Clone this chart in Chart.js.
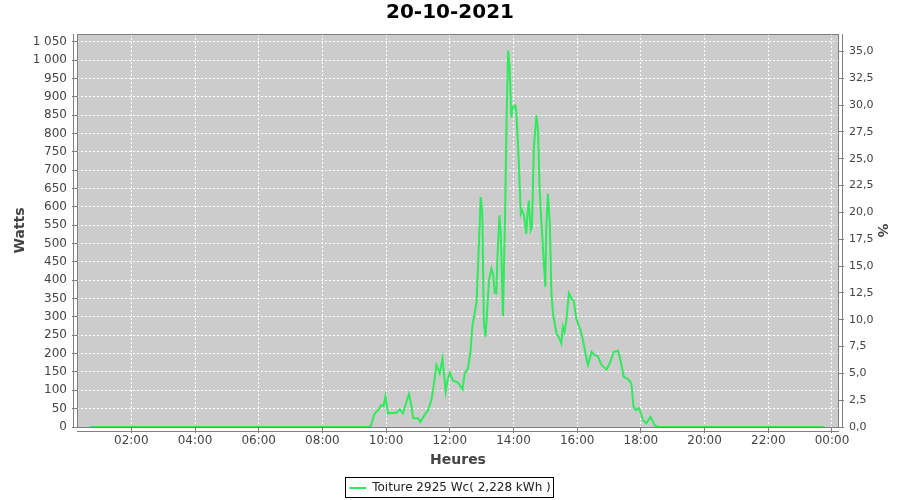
<!DOCTYPE html>
<html>
<head>
<meta charset="utf-8">
<title>20-10-2021</title>
<script src="https://cdn.jsdelivr.net/npm/chart.js@4/dist/chart.umd.min.js"></script>
<style>
    html, body { margin: 0; padding: 0; background: #fff; }
    canvas { display: block; }
</style>
</head>
<body>
<canvas id="chart" width="900" height="500"></canvas>
<script>
const CHART_TITLE = '20-10-2021';
const SERIES_LABEL = 'Toiture 2925 Wc( 2,228 kWh )';
const PEAK_WC = 2925;

// heure de la journée (en heures décimales) et puissance en watts
const HOURS = [
    0.70, 9.45, 9.52, 9.58, 9.64, 9.75, 9.85, 9.92, 9.98, 10.06,
    10.17, 10.32, 10.43, 10.53, 10.64, 10.72, 10.79, 10.85, 11.00, 11.08,
    11.21, 11.32, 11.42, 11.49, 11.58, 11.68, 11.77, 11.87, 11.93, 12.00,
    12.10, 12.26, 12.40, 12.47, 12.57, 12.65, 12.71, 12.78, 12.84, 12.89,
    12.97, 13.02, 13.07, 13.12, 13.18, 13.23, 13.31, 13.36, 13.41, 13.46,
    13.50, 13.56, 13.60, 13.67, 13.74, 13.78, 13.83, 13.88, 13.93, 13.98,
    14.06, 14.09, 14.16, 14.23, 14.27, 14.33, 14.40, 14.44, 14.48, 14.54,
    14.58, 14.64, 14.72, 14.77, 14.82, 14.88, 14.96, 15.00, 15.03, 15.08,
    15.14, 15.19, 15.24, 15.35, 15.45, 15.50, 15.55, 15.60, 15.66, 15.74,
    15.82, 15.89, 15.97, 16.10, 16.18, 16.27, 16.34, 16.45, 16.55, 16.65,
    16.76, 16.92, 17.02, 17.15, 17.28, 17.36, 17.46, 17.60, 17.70, 17.77,
    17.84, 17.94, 18.07, 18.17, 18.30, 18.43, 18.54, 23.76,
];
const WATTS = [
    0, 0, 3, 20, 37, 46, 60, 57, 84, 37,
    38, 38, 48, 37, 69, 90, 60, 24, 24, 14,
    33, 46, 73, 110, 169, 146, 187, 96, 128, 148,
    126, 121, 103, 146, 160, 205, 277, 309, 341, 445,
    627, 581, 282, 246, 327, 400, 432, 418, 366, 364,
    470, 577, 527, 302, 599, 826, 1026, 980, 844, 871,
    876, 858, 735, 581, 590, 577, 527, 581, 617, 536,
    545, 762, 849, 808, 645, 554, 436, 382, 545, 636,
    554, 364, 309, 255, 240, 228, 273, 259, 291, 364,
    350, 345, 296, 264, 237, 196, 169, 205, 196, 193,
    169, 157, 173, 205, 208, 182, 137, 130, 119, 55,
    46, 51, 19, 10, 28, 5, 0, 0,
];

const X_MIN = 0.295;
const X_MAX = 24.22;
const X_TICKS = [2, 4, 6, 8, 10, 12, 14, 16, 18, 20, 22, 24];
const Y_MAX = 1071;

const FONT = 'DejaVu Sans';
const TEXT = '#444444';
const FRAME = '#808080';
const LINE_COLOR = '#2fea5c';

function fmtHour(v) {
    const h = Math.round(v) % 24;
    return String(h).padStart(2, '0') + ':00';
}

function fmtWatts(v) {
    const s = String(Math.round(v));
    return s.length > 3 ? s.slice(0, -3) + ' ' + s.slice(-3) : s;
}

const plotFrame = {
    id: 'plotFrame',
    beforeDraw(chart) {
        const { ctx, chartArea: a } = chart;
        ctx.save();
        ctx.fillStyle = '#fff';
        ctx.fillRect(0, 0, chart.width, chart.height);
        ctx.fillStyle = '#cccccc';
        ctx.fillRect(a.left, a.top, a.right - a.left, a.bottom - a.top);
        ctx.restore();
    },
    beforeDatasetsDraw(chart) {
        const { ctx, chartArea: a } = chart;
        ctx.save();
        ctx.strokeStyle = FRAME;
        ctx.lineWidth = 1;
        ctx.strokeRect(a.left + 0.5, a.top + 0.5, a.right - a.left - 1, a.bottom - a.top);
        ctx.beginPath();
        // axes décalés du cadre
        ctx.moveTo(a.left - 3.5, a.top);
        ctx.lineTo(a.left - 3.5, a.bottom);
        ctx.moveTo(a.right + 3.5, a.top);
        ctx.lineTo(a.right + 3.5, a.bottom);
        ctx.moveTo(a.left, a.bottom + 4.5);
        ctx.lineTo(a.right, a.bottom + 4.5);
        ctx.stroke();
        ctx.restore();
    },
    afterDraw(chart) {
        const box = chart.legend && chart.legend.legendHitBoxes[0];
        if (!box) return;
        const { ctx } = chart;
        ctx.save();
        ctx.strokeStyle = '#000';
        ctx.lineWidth = 1;
        ctx.strokeRect(Math.round(box.left) - 3.5, Math.round(box.top) - 4.5,
            Math.round(box.width) + 6, Math.round(box.height) + 8);
        ctx.restore();
    },
};

new Chart(document.getElementById('chart'), {
    type: 'line',
    data: {
        datasets: [{
            label: SERIES_LABEL,
            data: HOURS.map((x, i) => ({ x, y: WATTS[i] })),
            borderColor: LINE_COLOR,
            backgroundColor: LINE_COLOR,
            borderWidth: 2,
            pointRadius: 0,
            tension: 0,
            fill: false,
            yAxisID: 'y',
        }],
    },
    options: {
        responsive: false,
        animation: false,
        layout: { padding: { top: 0, left: 0, right: 0, bottom: -4 } },
        plugins: {
            title: {
                display: true,
                text: CHART_TITLE,
                color: '#000',
                font: { family: FONT, weight: 'bold', size: 20, lineHeight: 1.2 },
                padding: { top: 1, bottom: 9 },
            },
            legend: {
                position: 'bottom',
                labels: {
                    usePointStyle: true,
                    pointStyle: 'line',
                    pointStyleWidth: 17,
                    color: '#222',
                    padding: 0,
                    font: { family: FONT, size: 12 },
                },
            },
            tooltip: { enabled: false },
        },
        scales: {
            x: {
                type: 'linear',
                min: X_MIN,
                max: X_MAX,
                afterBuildTicks: scale => { scale.ticks = X_TICKS.map(value => ({ value })); },
                afterFit: scale => { scale.height = 55; },
                ticks: {
                    autoSkip: false,
                    maxRotation: 0,
                    includeBounds: false,
                    padding: 1,
                    color: TEXT,
                    font: { family: FONT, size: 12 },
                    callback: v => fmtHour(v),
                },
                grid: { color: '#ffffff', tickColor: FRAME, tickLength: 6, tickBorderDash: [] },
                border: { display: false, dash: [2, 2] },
                title: {
                    display: true,
                    text: 'Heures',
                    color: TEXT,
                    font: { family: FONT, weight: 'bold', size: 14, lineHeight: 1.2 },
                    padding: { top: 0, bottom: 13.6 },
                },
            },
            y: {
                position: 'left',
                min: 0,
                max: Y_MAX,
                afterFit: scale => { scale.width = 77; },
                ticks: {
                    stepSize: 50,
                    includeBounds: false,
                    padding: 5,
                    color: TEXT,
                    font: { family: FONT, size: 12 },
                    callback: v => fmtWatts(v),
                },
                grid: { color: '#ffffff', tickColor: FRAME, tickLength: 5, tickBorderDash: [] },
                border: { display: false, dash: [2, 2] },
                title: {
                    display: true,
                    text: 'Watts',
                    color: TEXT,
                    font: { family: FONT, weight: 'bold', size: 14, lineHeight: 1.2 },
                    padding: { top: 12, bottom: 0 },
                },
            },
            pct: {
                position: 'right',
                display: true,
                min: 0,
                max: Y_MAX / PEAK_WC * 100,
                afterFit: scale => { scale.width = 61; },
                ticks: {
                    stepSize: 2.5,
                    includeBounds: false,
                    padding: 5,
                    color: TEXT,
                    font: { family: FONT, size: 11 },
                    callback: v => v.toFixed(1).replace('.', ','),
                },
                grid: { drawOnChartArea: false, tickColor: FRAME, tickLength: 5 },
                border: { display: false },
                title: {
                    display: true,
                    text: '%',
                    color: TEXT,
                    font: { family: FONT, weight: 'bold', size: 14, lineHeight: 1.2 },
                    padding: { top: 10, bottom: 0 },
                },
            },
        },
    },
    plugins: [plotFrame],
});
</script>
</body>
</html>
